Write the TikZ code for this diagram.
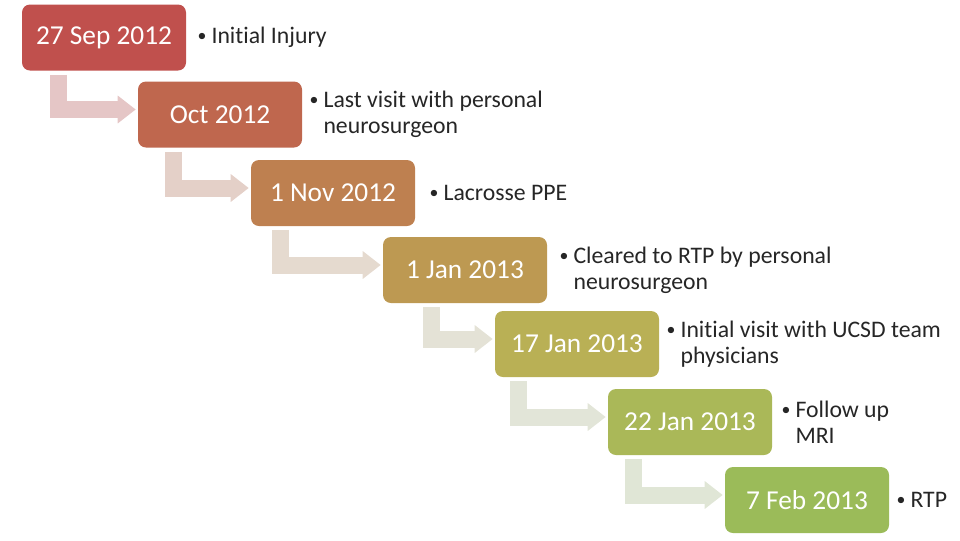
\documentclass[tikz,border=0pt]{standalone}
\usepackage{fontspec}
\setmainfont[Ligatures=NoCommon]{Carlito}
\usetikzlibrary{positioning, arrows.meta}

% box colours, red to green
\definecolor{tone1}{RGB}{192,80,77}
\definecolor{tone2}{RGB}{191,103,78}
\definecolor{tone3}{RGB}{190,128,80}
\definecolor{tone4}{RGB}{189,153,82}
\definecolor{tone5}{RGB}{185,176,85}
\definecolor{tone6}{RGB}{170,184,88}
\definecolor{tone7}{RGB}{155,187,89}
% pale arrow colours
\definecolor{pale1}{RGB}{229,198,198}
\definecolor{pale2}{RGB}{228,208,200}
\definecolor{pale3}{RGB}{229,218,207}
\definecolor{pale4}{RGB}{228,226,214}
\definecolor{pale5}{RGB}{226,229,216}
\definecolor{pale6}{RGB}{224,230,214}

\newcommand{\bul}{\makebox[10.5pt][l]{\raisebox{0.08em}{\scalebox{0.75}{\textbullet}}}}
\newcommand{\ind}{\hspace*{10.5pt}}

\begin{document}
\begin{tikzpicture}[x=0.75pt, y=-0.75pt,
    datebox/.style={rectangle, rounded corners=6pt, minimum width=123pt,
        minimum height=49.5pt, inner sep=0pt, text=white,
        font=\fontsize{20.5}{24}\selectfont},
    note/.style={inner sep=0pt, align=left, text=black!85,
        font=\fontsize{17.8}{19.5}\selectfont},
    steparrow/.style={line width=12.75pt, line join=miter, shorten >=1.5pt,
        -{Triangle[width=20pt, length=13.5pt]}}]
    \useasboundingbox (0,0) rectangle (960,540);

    % Dates:
    \node [datebox, fill=tone1] (d1) at (104,37.5) {27 Sep 2012};
    \node [datebox, fill=tone2] (d2) at (220,114.5) {Oct 2012};
    \node [datebox, fill=tone3] (d3) at (333,193) {1 Nov 2012};
    \node [datebox, fill=tone4] (d4) at (465,270) {1 Jan 2013};
    \node [datebox, fill=tone5] (d5) at (577,344) {17 Jan 2013};
    \node [datebox, fill=tone6] (d6) at (690,422) {22 Jan 2013};
    \node [datebox, fill=tone7] (d7) at (807,500) {7 Feb 2013};

    % Events, to the right of each date:
    \node [note, right=8.25pt of d1] (n1) {\bul Initial Injury};
    \node [note, right=5.25pt of d2] (n2) {\bul Last visit with personal\\\ind neurosurgeon};
    \node [note, right=10.5pt of d3] (n3) {\bul Lacrosse PPE};
    \node [note, right=9pt of d4] (n4) {\bul Cleared to RTP by personal\\\ind neurosurgeon};
    \node [note, right=5.25pt of d5] (n5) {\bul Initial visit with UCSD team\\\ind physicians};
    \node [note, right=6.75pt of d6] (n6) {\bul Follow up\\\ind MRI};
    \node [note, right=5.25pt of d7] (n7) {\bul RTP};

    % Bent arrows from one date down to the next:
    \foreach \a/\b/\dx/\col in {d1/d2/27.4/pale1, d2/d3/26.6/pale2, d3/d4/22.1/pale3,
                                d4/d5/36.4/pale4, d5/d6/17.6/pale5, d6/d7/19.1/pale6}{
        \draw [steparrow, \col] ([xshift=\dx pt, yshift=-3pt]\a.south west)
            |- ([yshift=3.75pt]\b.west);
    }
\end{tikzpicture}
\end{document}
